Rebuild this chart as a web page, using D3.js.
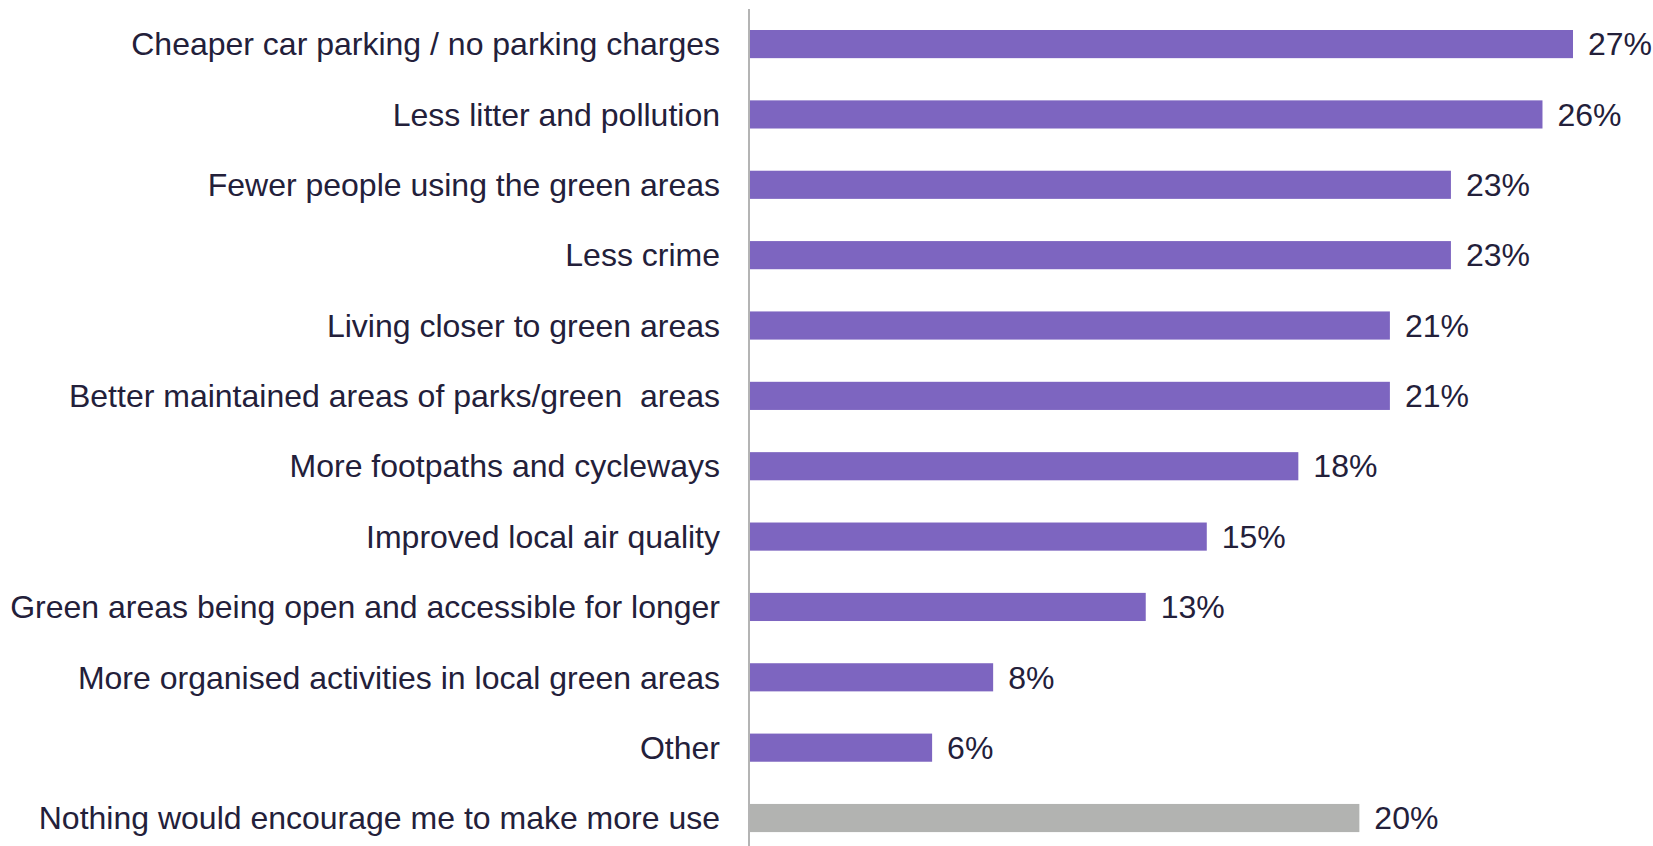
<!DOCTYPE html>
<html>
<head>
<meta charset="utf-8">
<script src="https://cdn.jsdelivr.net/npm/d3@7"></script>
<style>
  html, body { margin: 0; padding: 0; background: #ffffff; }
  svg { display: block; }
</style>
</head>
<body>
<svg id="chart" width="1653" height="846"></svg>
<script>
const categories = [
  "Cheaper car parking / no parking charges",
  "Less litter and pollution",
  "Fewer people using the green areas",
  "Less crime",
  "Living closer to green areas",
  "Better maintained areas of parks/green  areas",
  "More footpaths and cycleways",
  "Improved local air quality",
  "Green areas being open and accessible for longer",
  "More organised activities in local green areas",
  "Other",
  "Nothing would encourage me to make more use"
];
const values = [27, 26, 23, 23, 21, 21, 18, 15, 13, 8, 6, 20];
const highlight = [false, false, false, false, false, false, false, false, false, false, false, true];

const svg = d3.select("#chart");
const x0 = 749;
const x = d3.scaleLinear().domain([0, 27]).range([x0, 1573]);
const y = d3.scaleBand()
  .domain(categories)
  .range([8.9, 853.2])
  .paddingInner(0.6)
  .paddingOuter(0.3);

const font = "'Liberation Sans', Arial, sans-serif";
const textColor = "#23203a";
const fs = 32;

// bars
svg.selectAll("rect.bar")
  .data(categories)
  .enter().append("rect")
  .attr("class", "bar")
  .attr("x", x(0))
  .attr("y", d => y(d))
  .attr("width", (d, i) => x(values[i]) - x(0))
  .attr("height", y.bandwidth())
  .attr("fill", (d, i) => highlight[i] ? "#b2b3b1" : "#7d65c0");

// axis line
svg.append("line")
  .attr("x1", x0).attr("x2", x0)
  .attr("y1", 9).attr("y2", 846)
  .attr("stroke", "#b4b4b4")
  .attr("stroke-width", 2);

// category labels
svg.selectAll("text.cat")
  .data(categories)
  .enter().append("text")
  .attr("class", "cat")
  .attr("x", x0 - 29)
  .attr("y", d => y(d) + y.bandwidth() / 2)
  .attr("dy", "0.35em")
  .attr("text-anchor", "end")
  .attr("font-family", font)
  .attr("font-size", fs)
  .attr("fill", textColor)
  .style("white-space", "pre")
  .text(d => d);

// value labels
svg.selectAll("text.val")
  .data(categories)
  .enter().append("text")
  .attr("class", "val")
  .attr("x", (d, i) => x(values[i]) + 15)
  .attr("y", d => y(d) + y.bandwidth() / 2)
  .attr("dy", "0.35em")
  .attr("font-family", font)
  .attr("font-size", fs)
  .attr("fill", textColor)
  .text((d, i) => values[i] + "%");
</script>
</body>
</html>
